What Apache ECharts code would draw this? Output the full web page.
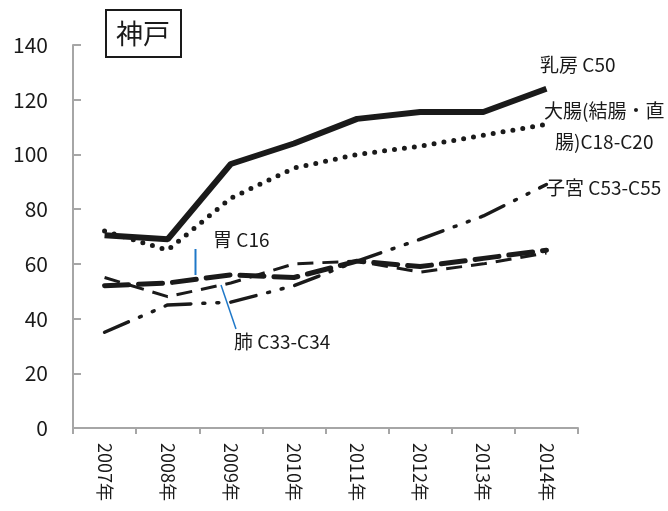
<!DOCTYPE html>
<html>
<head>
<meta charset="utf-8">
<script src="https://cdn.jsdelivr.net/npm/echarts@6/dist/echarts.min.js"></script>
<style>
  html, body { margin: 0; padding: 0; background: #fff; }
  #main { width: 668px; height: 511px; }
</style>
</head>
<body>
<div id="main"></div>
<script>
// 神戸 - がん部位別の推移
const years = ['2007年', '2008年', '2009年', '2010年', '2011年', '2012年', '2013年', '2014年']
const breast = [70.5, 69, 96.5, 104, 113, 115.5, 115.5, 124]        // 乳房 C50
const colorectum = [72, 65, 84, 95, 100, 103, 107, 111]            // 大腸 C18-C20
const uterus = [35, 45, 46, 52, 61, 69, 77.5, 89]                  // 子宮 C53-C55
const stomach = [52, 53, 56, 55, 61, 59, 62, 65]                   // 胃 C16
const lung = [55, 48, 53, 60, 61, 57, 60, 64]                      // 肺 C33-C34
const yTicks = [0, 20, 40, 60, 80, 100, 120, 140]

const font = '"Noto Sans CJK JP", "Noto Sans", sans-serif'
const chart = echarts.init(document.getElementById('main'))

function lineSeries(name, data, width, type, cap) {
    return {
        type: 'line',
        name: name,
        data: data,
        symbol: 'none',
        smooth: false,
        animation: false,
        lineStyle: {
            color: '#1a1a1a',
            width: width,
            type: type,
            cap: cap || 'butt'
        }
    }
}

// 右側と中央の注記
function label(text, x, y) {
    return {
        type: 'text', x: x, y: y,
        style: { text: text, font: '19px ' + font, fill: '#1a1a1a', verticalAlign: 'middle' }
    }
}

const option = {
    backgroundColor: '#fff',
    animation: false,
    grid: { left: 73, right: 90, top: 45, bottom: 83 },
    xAxis: {
        type: 'category',
        data: years,
        boundaryGap: true,
        axisLine: { lineStyle: { color: '#a6a6a6', width: 2 } },
        axisTick: { show: true, length: 6, lineStyle: { color: '#a6a6a6', width: 2 } },
        axisLabel: {
            rotate: -90,
            color: '#1a1a1a',
            fontFamily: font,
            fontSize: 18,
            margin: 15
        },
        splitLine: { show: false }
    },
    yAxis: {
        type: 'value',
        min: yTicks[0],
        max: yTicks[yTicks.length - 1],
        interval: 20,
        axisLine: { show: true, lineStyle: { color: '#a6a6a6', width: 2 } },
        axisTick: { show: true, inside: true, length: 8, lineStyle: { color: '#a6a6a6', width: 2 } },
        axisLabel: { color: '#1a1a1a', fontFamily: font, fontSize: 21, margin: 25 },
        splitLine: { show: false }
    },
    series: [
        lineSeries('肺', lung, 3, [16, 9]),
        lineSeries('子宮', uterus, 3.5, [26, 12, 2, 12, 2, 12], 'round'),
        lineSeries('胃', stomach, 5, [24, 10], 'round'),
        lineSeries('大腸', colorectum, 5, [0, 10], 'round'),
        lineSeries('乳房', breast, 6, 'solid')
    ],
    graphic: [
        {
            type: 'rect',
            shape: { x: 106, y: 10, width: 75, height: 47 },
            style: { fill: '#fff', stroke: '#1a1a1a', lineWidth: 2 }
        },
        {
            type: 'text', x: 143, y: 34,
            style: { text: '神戸', font: '27px ' + font, fill: '#1a1a1a', align: 'center', verticalAlign: 'middle' }
        },
        label('乳房 C50', 540, 65),
        label('大腸(結腸・直', 544, 111),
        label('腸)C18-C20', 555, 142),
        label('子宮 C53-C55', 546, 188),
        label('胃 C16', 213, 240),
        label('肺 C33-C34', 234, 342),
        {
            type: 'line',
            shape: { x1: 195.5, y1: 249, x2: 195.5, y2: 275 },
            style: { stroke: '#1f78c8', lineWidth: 2 }
        },
        {
            type: 'line',
            shape: { x1: 221, y1: 285, x2: 236, y2: 329 },
            style: { stroke: '#1f78c8', lineWidth: 1.5 }
        }
    ]
}

chart.setOption(option)
</script>
</body>
</html>
